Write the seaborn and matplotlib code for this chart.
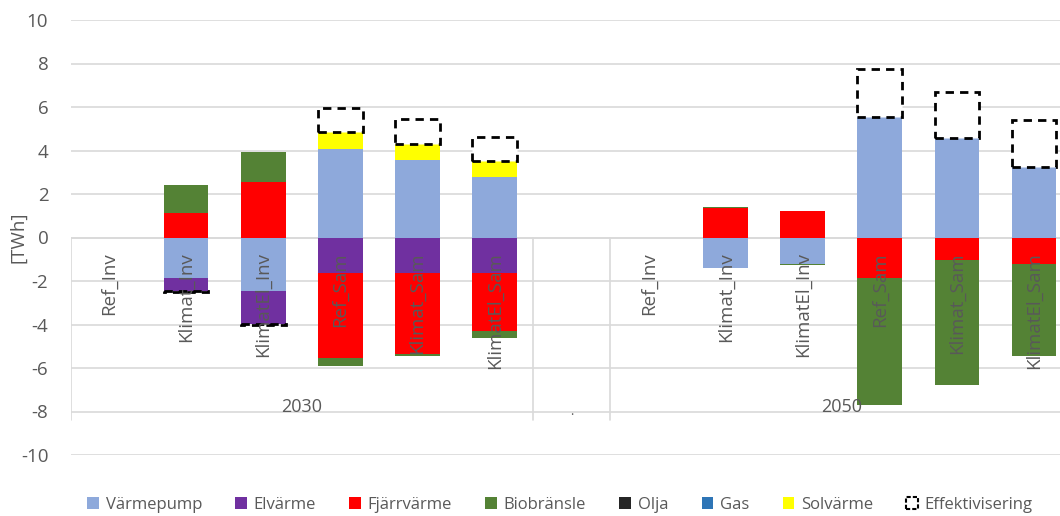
import seaborn as sns
import matplotlib.pyplot as plt
from matplotlib.patches import Patch
import pandas as pd
import numpy as np

scenarios = ['Ref_Inv', 'Klimat_Inv', 'KlimatEl_Inv', 'Ref_Sam', 'Klimat_Sam', 'KlimatEl_Sam']
years = ['2030', '2050']
# 13 slots: 6 scenarios 2030, one empty slot, 6 scenarios 2050
slots = [f'2030 {s}' for s in scenarios] + [' '] + [f'2050 {s}' for s in scenarios]
slot_labels = scenarios + [''] + scenarios

series = ['Värmepump', 'Elvärme', 'Fjärrvärme', 'Biobränsle', 'Olja', 'Gas', 'Solvärme', 'Effektivisering']
colors = ['#8EA9DB', '#7030A0', '#FF0000', '#548235', '#262626', '#2E75B6', '#FFFF00', 'white']

varmepump = [0, -1.84, -2.48, 4.06, 3.57, 2.76, 0, 0, -1.41, -1.21, 5.52, 4.57, 3.23]
elvarme = [0, -0.60, -1.50, -1.61, -1.61, -1.61, 0, 0, 0, 0, 0, 0, 0]
fjarrvarme = [0, 1.12, 2.53, -3.95, -3.74, -2.71, 0, 0, 1.35, 1.20, -1.84, -1.02, -1.21]
biobransle = [0, 1.29, 1.41, -0.37, -0.09, -0.28, 0, 0, 0.04, -0.07, -5.88, -5.75, -4.25]
olja = [0] * 13
gas = [0] * 13
solvarme = [0, 0, 0, 0.77, 0.74, 0.77, 0, 0, 0, 0, 0, 0, 0]
effektivisering = [0, -0.05, -0.05, 1.12, 1.13, 1.09, 0, 0, 0, 0, 2.22, 2.14, 2.18]

values = [varmepump, elvarme, fjarrvarme, biobransle, olja, gas, solvarme, effektivisering]

# long table with stacked bottoms (positives up, negatives down, in series order)
rows = []
pos_base = np.zeros(len(slots))
neg_base = np.zeros(len(slots))
for name, vals in zip(series, values):
    for i, v in enumerate(vals):
        if v == 0:
            continue
        if v > 0:
            b = pos_base[i]
            pos_base[i] += v
        else:
            b = neg_base[i]
            neg_base[i] += v
        rows.append({'slot': slots[i], 'pos': i, 'serie': name, 'value': v, 'bottom': b})
df = pd.DataFrame(rows)

sns.set_style('white')
plt.rcParams['font.family'] = ['Open Sans', 'DejaVu Sans']
plt.rcParams['axes.unicode_minus'] = False
grey = '#595959'
gridc = '#D9D9D9'

fig = plt.figure(figsize=(10.6, 5.16), dpi=100)
ax = fig.add_axes([70.5 / 1060, 1 - 455 / 516, 1002 / 1060, 435 / 516])

for name, col in zip(series, colors):
    sub = df[df['serie'] == name].sort_values('pos')
    if sub.empty:
        continue
    if name == 'Effektivisering':
        kw = dict(edgecolor='black', linewidth=2, linestyle=(0, (3, 2.2)))
    else:
        kw = dict(linewidth=0)
    sns.barplot(data=sub, x='slot', y='value', order=slots, bottom=sub['bottom'].to_numpy(),
                color=col, width=0.58, errorbar=None, saturation=1, ax=ax, zorder=3, **kw)

ax.set_ylim(-10, 10)
ax.set_xlim(-0.5, len(slots) - 0.5)
ax.set_yticks(range(-10, 11, 2))
ax.yaxis.grid(True, color=gridc, linewidth=1.2, zorder=0)
ax.set_axisbelow(True)
for s in ax.spines.values():
    s.set_visible(False)
ax.tick_params(axis='y', length=0, labelsize=13.5, labelcolor=grey, pad=16)
ax.set_xticks([])
ax.set_xlabel('')
ax.set_ylabel('[TWh]', fontsize=13.5, color=grey)
ax.yaxis.set_label_coords(-0.043, 0.5)

# category axis at zero with group separators
ax.axhline(0, color=gridc, linewidth=1.2, zorder=1)
for xs in [-0.5, 5.5, 6.5, 12.5]:
    ax.plot([xs, xs], [0, -8.4], color=gridc, linewidth=1.2, zorder=1)

for i, lab in enumerate(slot_labels):
    if lab:
        ax.text(i, -0.68, lab, rotation=90, ha='center', va='top', fontsize=13.5, color=grey, zorder=5)
ax.text(2.5, -7.8, years[0], ha='center', va='center', fontsize=13, color=grey, zorder=5)
ax.text(9.5, -7.8, years[1], ha='center', va='center', fontsize=13, color=grey, zorder=5)
ax.text(6, -8.0, '.', ha='center', va='center', fontsize=9, color=grey, zorder=5)

handles = []
for name, col in zip(series, colors):
    if name == 'Effektivisering':
        handles.append(Patch(facecolor='white', edgecolor='black', linestyle=(0, (2, 1)), linewidth=1.5, label=name))
    else:
        handles.append(Patch(facecolor=col, edgecolor='none', label=name))
fig.legend(handles=handles, loc='center', bbox_to_anchor=(560 / 1060, 1 - 505 / 516), ncol=8, frameon=False,
           fontsize=12, handlelength=0.7, handleheight=0.7, handletextpad=0.4, columnspacing=2.0,
           labelcolor=grey)

fig.savefig('out.png', dpi=100)
